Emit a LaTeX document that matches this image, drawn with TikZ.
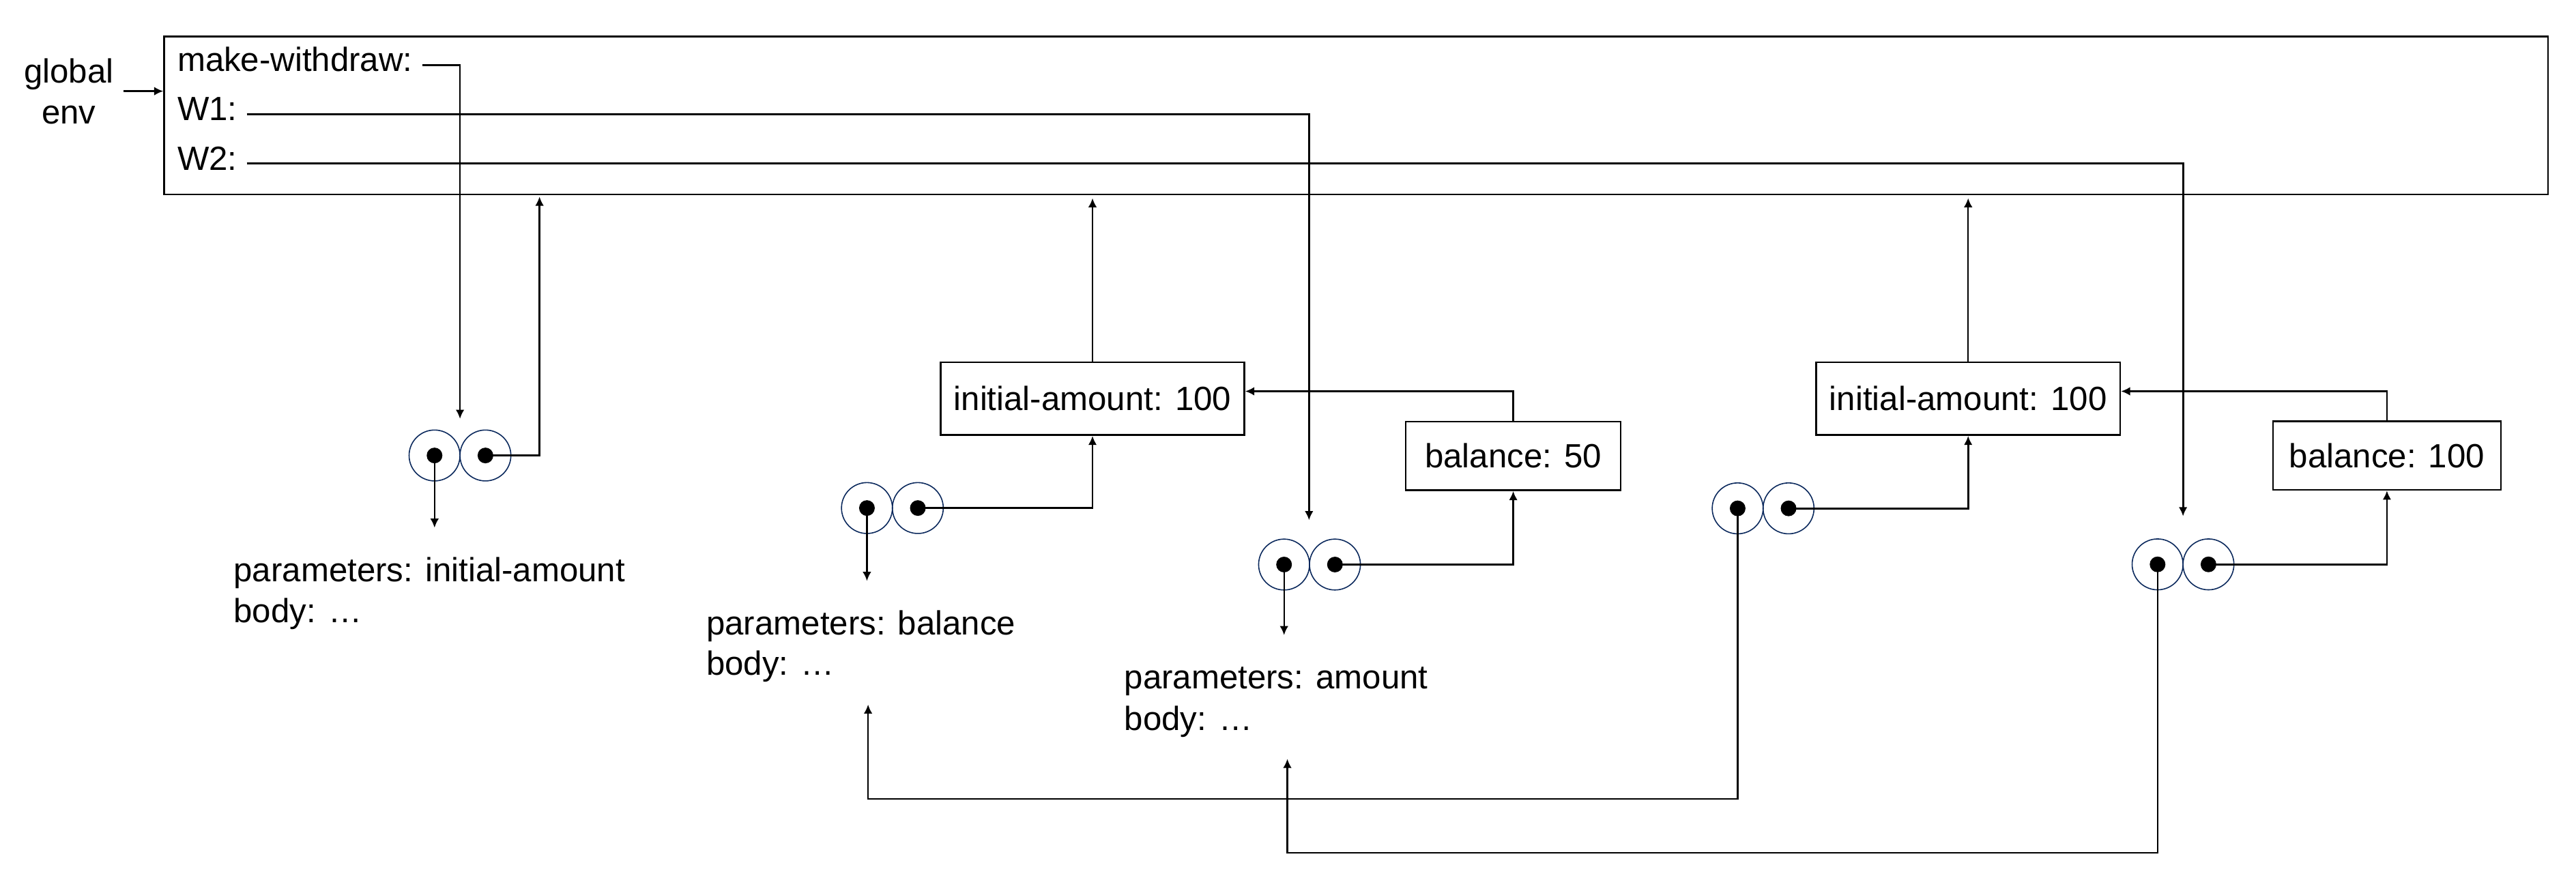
\documentclass[tikz,border=0pt]{standalone}
\usepackage{fontspec}
\setmainfont{Liberation Sans}
\usetikzlibrary{arrows.meta,positioning}
\definecolor{cellblue}{RGB}{10,40,92}
\tikzset{
  arr/.style={-{Latex[length=3.8pt,width=3.6pt]}},
  lbl/.style={inner sep=0pt, outer xsep=0.14cm, anchor=base west, font=\fontsize{14}{17}\selectfont},
  frame/.style={draw, line width=0.7pt, inner sep=0pt, font=\fontsize{14}{17}\selectfont, minimum height=1.067cm},
  cell/.style={circle, draw=cellblue, line width=0.45pt, minimum size=0.746cm, inner sep=0pt, outer sep=0pt}
}

\begin{document}
\begin{tikzpicture}[x=0.024075cm, y=0.024075cm, line width=0.7pt]
            \useasboundingbox (0,0) rectangle (1568,-533);
            \node[lbl, anchor=center, align=center] (genv) at (41.9,-55.5) {global\\env};
            \node[draw, anchor=north west, inner sep=0pt, minimum width=34.94cm, minimum height=2.318cm] (glob) at (99.4,-21.7) {};
            \node[lbl] (mw) at (102.2,-43.6) {make-withdraw:};
            \node[lbl] (w1) at (102.2,-73.4) {W1:};
            \node[lbl] (w2) at (102.2,-103.5) {W2:};
            \node[cell] (pmwl) at (264.5,-277.3) {};
            \node[cell, right=0pt of pmwl] (pmwr) {};
            \node[cell] (pbal1l) at (527.7,-309.3) {};
            \node[cell, right=0pt of pbal1l] (pbal1r) {};
            \node[cell] (pw1l) at (781.6,-343.7) {};
            \node[cell, right=0pt of pw1l] (pw1r) {};
            \node[cell] (pbal2l) at (1057.7,-309.5) {};
            \node[cell, right=0pt of pbal2l] (pbal2r) {};
            \node[cell] (pw2l) at (1313.3,-343.6) {};
            \node[cell, right=0pt of pw2l] (pw2r) {};
            \node[frame, minimum width=4.451cm] (e1) at (665,-242.7) {initial-amount: 100};
            \node[frame, minimum width=3.149cm, minimum height=1.004cm] (b1) at (921.1,-277.6) {balance: 50};
            \node[frame, minimum width=4.456cm] (e2) at (1198,-242.7) {initial-amount: 100};
            \node[frame, minimum width=3.339cm, minimum height=1.006cm] (b2) at (1452.9,-277.3) {balance: 100};
            \node[lbl] (mwpar) at (136.5,-354) {parameters: initial-amount};
            \node[lbl] (mwbody) at (136.5,-379) {body: …};
            \node[lbl] (balpar) at (424.2,-386.3) {parameters: balance};
            \node[lbl] (balbody) at (424.2,-411) {body: …};
            \node[lbl] (amtpar) at (678.6,-419.5) {parameters: amount};
            \node[lbl] (amtbody) at (678.6,-444.5) {body: …};
            \coordinate (mwtip) at (280,-255);
            \coordinate (w1tip) at (796.8,-316.7);
            \coordinate (w2tip) at (1328.8,-314.3);
            \coordinate (mwenv) at (328.4,-119.7);
            \coordinate (baltip) at (528.4,-428.9);
            \coordinate (amttip) at (783.6,-462);
            \draw[arr] (genv.east) -- (genv.east -| glob.west);
            \draw[arr] (mw.mid east) -| (mwtip);
            \draw[arr, line width=0.8pt] (w1.mid east) -| (w1tip);
            \draw[arr, line width=0.8pt] (w2.mid east) -| (w2tip);
            \draw[arr] (pmwr.center) -| (mwenv);
            \draw[arr] (pmwl.center) -- ++(0,-44);
            \draw[arr] (e1.north) -- ([yshift=-0.04cm]e1.north |- glob.south);
            \draw[arr] (e2.north) -- ([yshift=-0.04cm]e2.north |- glob.south);
            \draw[arr] (b1.north) |- ([yshift=0.108cm]e1.east);
            \draw[arr] (b2.north) |- ([yshift=0.108cm]e2.east);
            \draw[arr, line width=0.8pt] (pbal1r.center) -| (e1.south);
            \draw[arr, line width=0.8pt] (pbal2r.center) -| (e2.south);
            \draw[arr, line width=0.8pt] (pw1r.center) -| (b1.south);
            \draw[arr, line width=0.8pt] (pw2r.center) -| (b2.south);
            \draw[arr] (pbal1l.center) -- ++(0,-44.4);
            \draw[arr] (pw1l.center) -- ++(0,-43);
            \draw[arr] (pbal2l.center) -- ++(0,-176.9) -| (baltip);
            \draw[arr] (pw2l.center) -- ++(0,-175.5) -| (amttip);
            \foreach \c in {pmwl,pmwr,pbal1l,pbal1r,pw1l,pw1r,pbal2l,pbal2r,pw2l,pw2r}
                \fill (\c) circle (0.115cm);
        \end{tikzpicture}
\end{document}
